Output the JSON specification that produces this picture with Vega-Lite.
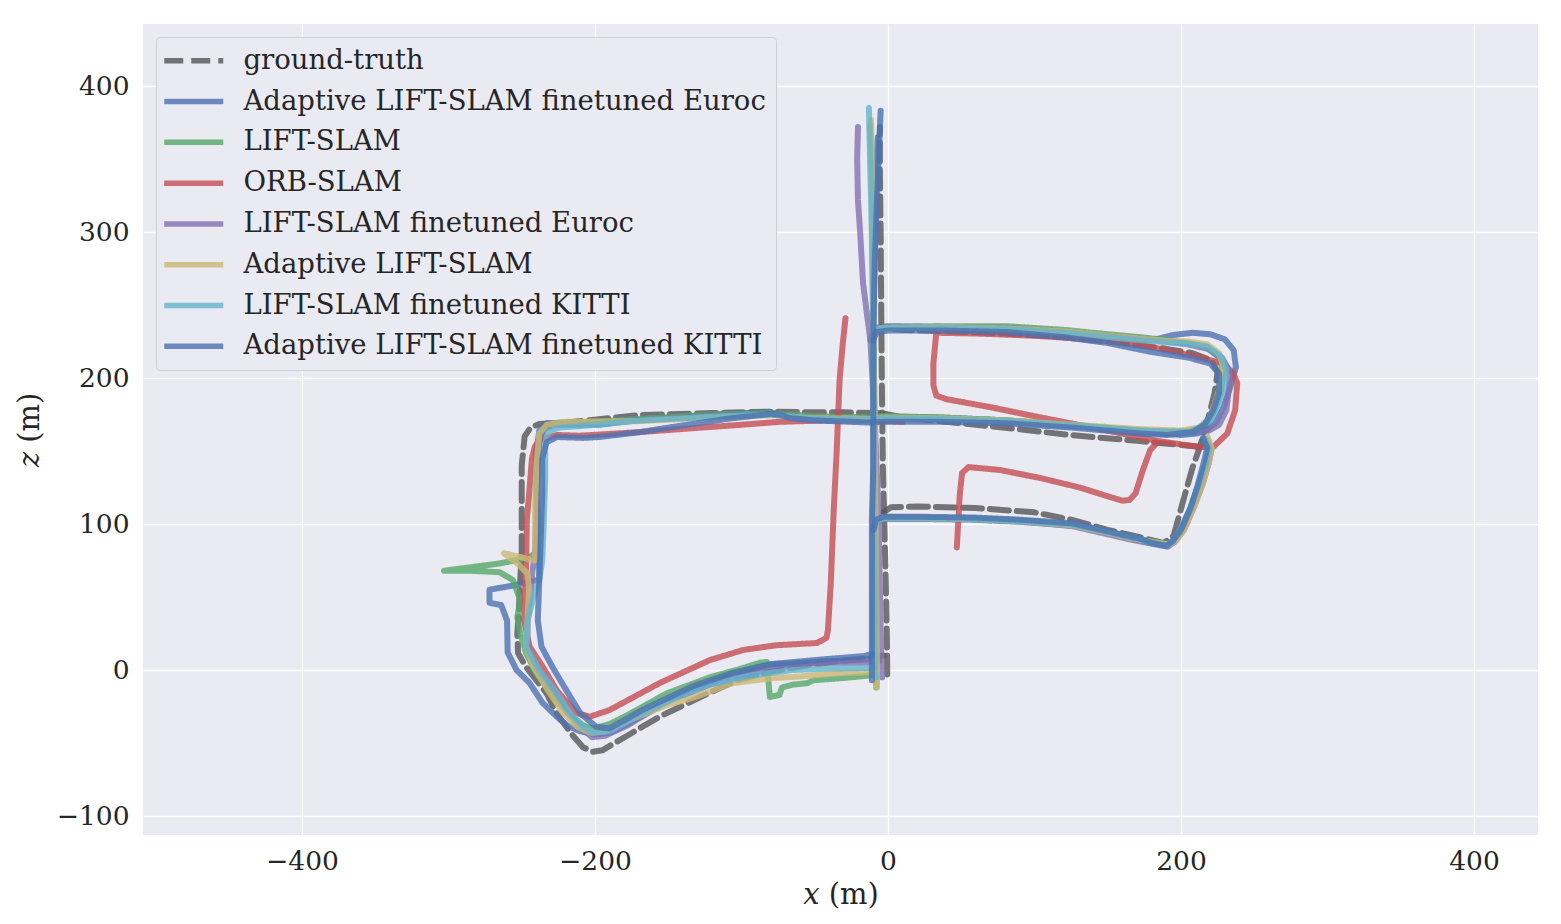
{
  "$schema": "https://vega.github.io/schema/vega-lite/v6.json",
  "width": 1395,
  "height": 811,
  "autosize": {"type": "none"},
  "padding": {"left": 143, "top": 24, "right": 23, "bottom": 89},
  "background": "#ffffff",
  "config": {
    "view": {"fill": "#EAEAF2", "stroke": null},
    "font": "DejaVu Serif",
    "axis": {
      "domain": false, "ticks": false, "grid": true, "gridColor": "#ffffff", "gridWidth": 1.3,
      "labelFont": "DejaVu Serif", "labelFontSize": 26.5, "labelColor": "#262626",
      "titleFont": "DejaVu Serif", "titleFontSize": 29, "titleColor": "#262626", "titleFontWeight": "normal",
      "labelFlush": false
    },
    "legend": {
      "labelFont": "DejaVu Serif", "labelFontSize": 27.5, "labelColor": "#262626"
    }
  },
  "data": {"values": [
    {"s":"gt","g":1,"x":-0.5,"y":-3},{"s":"gt","g":1,"x":-0.7,"y":20},{"s":"gt","g":1,"x":-1.5,"y":60},{"s":"gt","g":1,"x":-2.5,"y":100},{"s":"gt","g":1,"x":-3.5,"y":140},{"s":"gt","g":1,"x":-4,"y":180},{"s":"gt","g":1,"x":-4.5,"y":232},{"s":"gt","g":1,"x":-5,"y":300},{"s":"gt","g":1,"x":-5.5,"y":340},{"s":"gt","g":1,"x":-5.5,"y":372},
    {"s":"gt","g":2,"x":-3,"y":108},{"s":"gt","g":2,"x":2,"y":111.5},{"s":"gt","g":2,"x":20,"y":112},{"s":"gt","g":2,"x":60,"y":111},{"s":"gt","g":2,"x":100,"y":108},{"s":"gt","g":2,"x":125,"y":103},{"s":"gt","g":2,"x":150,"y":96},{"s":"gt","g":2,"x":172,"y":91},{"s":"gt","g":2,"x":188,"y":87},{"s":"gt","g":2,"x":195,"y":92},{"s":"gt","g":2,"x":201.5,"y":116},{"s":"gt","g":2,"x":208,"y":139},{"s":"gt","g":2,"x":213,"y":153},{"s":"gt","g":2,"x":218,"y":170},{"s":"gt","g":2,"x":223,"y":190},{"s":"gt","g":2,"x":225,"y":204},{"s":"gt","g":2,"x":221,"y":212},{"s":"gt","g":2,"x":208,"y":217},{"s":"gt","g":2,"x":190,"y":220},{"s":"gt","g":2,"x":160,"y":224},{"s":"gt","g":2,"x":120,"y":228},{"s":"gt","g":2,"x":80,"y":230.5},{"s":"gt","g":2,"x":40,"y":232},{"s":"gt","g":2,"x":10,"y":233},{"s":"gt","g":2,"x":-4.5,"y":235},
    {"s":"gt","g":3,"x":213,"y":153},{"s":"gt","g":3,"x":170,"y":157},{"s":"gt","g":3,"x":124,"y":161},{"s":"gt","g":3,"x":80,"y":166},{"s":"gt","g":3,"x":40,"y":170},{"s":"gt","g":3,"x":10,"y":173},{"s":"gt","g":3,"x":-4,"y":176},{"s":"gt","g":3,"x":-30,"y":176.5},{"s":"gt","g":3,"x":-51,"y":176.5},{"s":"gt","g":3,"x":-80,"y":177},{"s":"gt","g":3,"x":-120,"y":176},{"s":"gt","g":3,"x":-169,"y":174.7},{"s":"gt","g":3,"x":-219,"y":169.5},{"s":"gt","g":3,"x":-238,"y":168.5},{"s":"gt","g":3,"x":-244,"y":166},{"s":"gt","g":3,"x":-248,"y":160},{"s":"gt","g":3,"x":-250,"y":140},{"s":"gt","g":3,"x":-250,"y":82},{"s":"gt","g":3,"x":-252,"y":40},{"s":"gt","g":3,"x":-253,"y":25},{"s":"gt","g":3,"x":-252.5,"y":11.6},{"s":"gt","g":3,"x":-247,"y":2},{"s":"gt","g":3,"x":-233,"y":-16},{"s":"gt","g":3,"x":-226,"y":-30},{"s":"gt","g":3,"x":-215,"y":-45},{"s":"gt","g":3,"x":-208,"y":-53},{"s":"gt","g":3,"x":-201.5,"y":-56},{"s":"gt","g":3,"x":-195,"y":-55},{"s":"gt","g":3,"x":-178,"y":-45},{"s":"gt","g":3,"x":-156,"y":-32},{"s":"gt","g":3,"x":-128,"y":-18.5},{"s":"gt","g":3,"x":-103,"y":-7},{"s":"gt","g":3,"x":-80,"y":-1},{"s":"gt","g":3,"x":-50,"y":4},{"s":"gt","g":3,"x":-30,"y":6.5},{"s":"gt","g":3,"x":-14,"y":8},{"s":"gt","g":3,"x":-3,"y":10},

    {"s":"ae","g":1,"x":-10,"y":5},{"s":"ae","g":1,"x":-10,"y":50},{"s":"ae","g":1,"x":-10,"y":100},{"s":"ae","g":1,"x":-10,"y":170},{"s":"ae","g":1,"x":-10,"y":232},{"s":"ae","g":1,"x":-9,"y":290},{"s":"ae","g":1,"x":-8,"y":340},{"s":"ae","g":1,"x":-7,"y":365},
    {"s":"ae","g":2,"x":-10,"y":229},{"s":"ae","g":2,"x":-8,"y":234.5},{"s":"ae","g":2,"x":0,"y":235.5},{"s":"ae","g":2,"x":40,"y":235},{"s":"ae","g":2,"x":81,"y":234.5},{"s":"ae","g":2,"x":120,"y":232},{"s":"ae","g":2,"x":150,"y":229},{"s":"ae","g":2,"x":172,"y":226},{"s":"ae","g":2,"x":181,"y":226},{"s":"ae","g":2,"x":195,"y":229.5},{"s":"ae","g":2,"x":208,"y":231},{"s":"ae","g":2,"x":220,"y":230},{"s":"ae","g":2,"x":230,"y":226.5},{"s":"ae","g":2,"x":236,"y":219},{"s":"ae","g":2,"x":237.5,"y":207.5},{"s":"ae","g":2,"x":234,"y":195},{"s":"ae","g":2,"x":229,"y":180},{"s":"ae","g":2,"x":224,"y":170},{"s":"ae","g":2,"x":218,"y":164.5},{"s":"ae","g":2,"x":211,"y":162},{"s":"ae","g":2,"x":200,"y":161},{"s":"ae","g":2,"x":172,"y":163},{"s":"ae","g":2,"x":126,"y":167.5},{"s":"ae","g":2,"x":81,"y":171},{"s":"ae","g":2,"x":35.5,"y":173},{"s":"ae","g":2,"x":-3,"y":173.5},{"s":"ae","g":2,"x":-12,"y":172},{"s":"ae","g":2,"x":-51,"y":172},{"s":"ae","g":2,"x":-70,"y":174.5},{"s":"ae","g":2,"x":-80,"y":176.5},{"s":"ae","g":2,"x":-100,"y":176},{"s":"ae","g":2,"x":-169,"y":171.5},{"s":"ae","g":2,"x":-197,"y":168},{"s":"ae","g":2,"x":-220,"y":168.5},{"s":"ae","g":2,"x":-233,"y":169},{"s":"ae","g":2,"x":-238,"y":164},{"s":"ae","g":2,"x":-240,"y":150},{"s":"ae","g":2,"x":-240,"y":120},{"s":"ae","g":2,"x":-239,"y":90},{"s":"ae","g":2,"x":-238,"y":70},{"s":"ae","g":2,"x":-238,"y":62},{"s":"ae","g":2,"x":-255,"y":58},{"s":"ae","g":2,"x":-272,"y":55},{"s":"ae","g":2,"x":-272,"y":46},{"s":"ae","g":2,"x":-264,"y":44.5},{"s":"ae","g":2,"x":-260,"y":34},{"s":"ae","g":2,"x":-259.6,"y":12},{"s":"ae","g":2,"x":-253.5,"y":0},{"s":"ae","g":2,"x":-244.6,"y":-9},{"s":"ae","g":2,"x":-235.7,"y":-22.6},{"s":"ae","g":2,"x":-226,"y":-32},{"s":"ae","g":2,"x":-219,"y":-38},{"s":"ae","g":2,"x":-210,"y":-42},{"s":"ae","g":2,"x":-200,"y":-44},{"s":"ae","g":2,"x":-190,"y":-43},{"s":"ae","g":2,"x":-176,"y":-36},{"s":"ae","g":2,"x":-151,"y":-21},{"s":"ae","g":2,"x":-130,"y":-12},{"s":"ae","g":2,"x":-106,"y":-3},{"s":"ae","g":2,"x":-80.6,"y":3.5},{"s":"ae","g":2,"x":-41.7,"y":6},{"s":"ae","g":2,"x":-17,"y":7},{"s":"ae","g":2,"x":-9,"y":8},
    {"s":"ae","g":3,"x":216,"y":158},{"s":"ae","g":3,"x":219,"y":152},{"s":"ae","g":3,"x":217,"y":141},{"s":"ae","g":3,"x":213,"y":130},{"s":"ae","g":3,"x":207,"y":112},{"s":"ae","g":3,"x":200,"y":97},{"s":"ae","g":3,"x":195,"y":89},{"s":"ae","g":3,"x":191,"y":85.5},{"s":"ae","g":3,"x":185,"y":86},{"s":"ae","g":3,"x":172,"y":89},{"s":"ae","g":3,"x":150,"y":94},{"s":"ae","g":3,"x":126,"y":99},{"s":"ae","g":3,"x":90,"y":101.5},{"s":"ae","g":3,"x":58,"y":103},{"s":"ae","g":3,"x":20,"y":103.5},{"s":"ae","g":3,"x":-3,"y":103.5},{"s":"ae","g":3,"x":-9,"y":101},{"s":"ae","g":3,"x":-10,"y":94},

    {"s":"ls","g":1,"x":-8,"y":-12},{"s":"ls","g":1,"x":-8,"y":20},{"s":"ls","g":1,"x":-8.5,"y":60},{"s":"ls","g":1,"x":-9,"y":103},{"s":"ls","g":1,"x":-9,"y":170},{"s":"ls","g":1,"x":-10,"y":232},{"s":"ls","g":1,"x":-10.5,"y":300},{"s":"ls","g":1,"x":-11,"y":340},{"s":"ls","g":1,"x":-12,"y":373},
    {"s":"ls","g":2,"x":-10,"y":228},{"s":"ls","g":2,"x":-8,"y":234},{"s":"ls","g":2,"x":0,"y":235},{"s":"ls","g":2,"x":40,"y":235.5},{"s":"ls","g":2,"x":81,"y":235.5},{"s":"ls","g":2,"x":120,"y":233},{"s":"ls","g":2,"x":150,"y":230},{"s":"ls","g":2,"x":172,"y":228},{"s":"ls","g":2,"x":190,"y":226},{"s":"ls","g":2,"x":205,"y":224},{"s":"ls","g":2,"x":218,"y":221},{"s":"ls","g":2,"x":226,"y":214},{"s":"ls","g":2,"x":229,"y":204},{"s":"ls","g":2,"x":227,"y":190},{"s":"ls","g":2,"x":223,"y":178},{"s":"ls","g":2,"x":218,"y":169},{"s":"ls","g":2,"x":210,"y":164.5},{"s":"ls","g":2,"x":195,"y":163},{"s":"ls","g":2,"x":172,"y":164},{"s":"ls","g":2,"x":126,"y":168},{"s":"ls","g":2,"x":81,"y":171},{"s":"ls","g":2,"x":35.5,"y":173},{"s":"ls","g":2,"x":-3,"y":174},{"s":"ls","g":2,"x":-12,"y":173},{"s":"ls","g":2,"x":-51,"y":174},{"s":"ls","g":2,"x":-80,"y":176},{"s":"ls","g":2,"x":-120,"y":175},{"s":"ls","g":2,"x":-169,"y":172},{"s":"ls","g":2,"x":-200,"y":170},{"s":"ls","g":2,"x":-225,"y":169.5},{"s":"ls","g":2,"x":-233,"y":167},{"s":"ls","g":2,"x":-237,"y":160},{"s":"ls","g":2,"x":-240,"y":145},{"s":"ls","g":2,"x":-240,"y":125},{"s":"ls","g":2,"x":-238,"y":95},{"s":"ls","g":2,"x":-241,"y":80},{"s":"ls","g":2,"x":-245,"y":77},{"s":"ls","g":2,"x":-265,"y":73},{"s":"ls","g":2,"x":-303,"y":68},{"s":"ls","g":2,"x":-285,"y":68},{"s":"ls","g":2,"x":-265,"y":67},{"s":"ls","g":2,"x":-256,"y":61.6},{"s":"ls","g":2,"x":-251,"y":48},{"s":"ls","g":2,"x":-253,"y":36},{"s":"ls","g":2,"x":-251,"y":25},{"s":"ls","g":2,"x":-247,"y":11.6},{"s":"ls","g":2,"x":-240,"y":-2},{"s":"ls","g":2,"x":-230,"y":-16},{"s":"ls","g":2,"x":-218,"y":-30},{"s":"ls","g":2,"x":-208,"y":-38},{"s":"ls","g":2,"x":-201.5,"y":-40},{"s":"ls","g":2,"x":-190,"y":-37},{"s":"ls","g":2,"x":-178,"y":-31},{"s":"ls","g":2,"x":-151,"y":-16},{"s":"ls","g":2,"x":-121.6,"y":-5},{"s":"ls","g":2,"x":-100,"y":1},{"s":"ls","g":2,"x":-87.5,"y":5},{"s":"ls","g":2,"x":-82.7,"y":5.5},{"s":"ls","g":2,"x":-80.6,"y":-18.5},{"s":"ls","g":2,"x":-74,"y":-17},{"s":"ls","g":2,"x":-72.4,"y":-12},{"s":"ls","g":2,"x":-65,"y":-10},{"s":"ls","g":2,"x":-55,"y":-9},{"s":"ls","g":2,"x":-51,"y":-7},{"s":"ls","g":2,"x":-31,"y":-5.5},{"s":"ls","g":2,"x":-15,"y":-4},{"s":"ls","g":2,"x":-9,"y":-3},
    {"s":"ls","g":3,"x":218,"y":158},{"s":"ls","g":3,"x":220,"y":152},{"s":"ls","g":3,"x":218,"y":142},{"s":"ls","g":3,"x":214,"y":128},{"s":"ls","g":3,"x":208,"y":112},{"s":"ls","g":3,"x":201,"y":96},{"s":"ls","g":3,"x":196,"y":89},{"s":"ls","g":3,"x":191,"y":86},{"s":"ls","g":3,"x":180,"y":88},{"s":"ls","g":3,"x":165,"y":91},{"s":"ls","g":3,"x":150,"y":94.5},{"s":"ls","g":3,"x":126,"y":99.5},{"s":"ls","g":3,"x":90,"y":102.5},{"s":"ls","g":3,"x":58,"y":104},{"s":"ls","g":3,"x":20,"y":104.5},{"s":"ls","g":3,"x":-3,"y":104.5},{"s":"ls","g":3,"x":-8,"y":102},{"s":"ls","g":3,"x":-9,"y":95},

    {"s":"orb","g":1,"x":-29,"y":241},{"s":"orb","g":1,"x":-31,"y":222},{"s":"orb","g":1,"x":-33,"y":199},{"s":"orb","g":1,"x":-35,"y":150},{"s":"orb","g":1,"x":-37,"y":110},{"s":"orb","g":1,"x":-39,"y":60},{"s":"orb","g":1,"x":-41,"y":27},{"s":"orb","g":1,"x":-42,"y":22},{"s":"orb","g":1,"x":-48.5,"y":18.5},{"s":"orb","g":1,"x":-76,"y":17},{"s":"orb","g":1,"x":-99,"y":13.7},{"s":"orb","g":1,"x":-121.6,"y":6.8},{"s":"orb","g":1,"x":-156,"y":-9},{"s":"orb","g":1,"x":-190,"y":-27.4},{"s":"orb","g":1,"x":-203.6,"y":-32},{"s":"orb","g":1,"x":-212.5,"y":-29.5},{"s":"orb","g":1,"x":-219,"y":-22},{"s":"orb","g":1,"x":-226,"y":-14},{"s":"orb","g":1,"x":-235.5,"y":2},{"s":"orb","g":1,"x":-244.6,"y":16},{"s":"orb","g":1,"x":-248.5,"y":34},{"s":"orb","g":1,"x":-247,"y":70},{"s":"orb","g":1,"x":-246.5,"y":103},{"s":"orb","g":1,"x":-245,"y":120},{"s":"orb","g":1,"x":-243,"y":145},{"s":"orb","g":1,"x":-241,"y":153},{"s":"orb","g":1,"x":-238,"y":157.5},{"s":"orb","g":1,"x":-226,"y":161},{"s":"orb","g":1,"x":-210,"y":160.5},{"s":"orb","g":1,"x":-169,"y":163},{"s":"orb","g":1,"x":-142,"y":165},{"s":"orb","g":1,"x":-100,"y":168},{"s":"orb","g":1,"x":-74,"y":170},{"s":"orb","g":1,"x":-40,"y":171},{"s":"orb","g":1,"x":-12,"y":171},{"s":"orb","g":1,"x":10,"y":170},
    {"s":"orb","g":2,"x":33,"y":231},{"s":"orb","g":2,"x":31,"y":210},{"s":"orb","g":2,"x":31,"y":195},{"s":"orb","g":2,"x":33,"y":188},{"s":"orb","g":2,"x":40,"y":185.5},{"s":"orb","g":2,"x":70,"y":180},{"s":"orb","g":2,"x":104,"y":173},{"s":"orb","g":2,"x":150,"y":164},{"s":"orb","g":2,"x":183,"y":157},{"s":"orb","g":2,"x":213,"y":152.7},{"s":"orb","g":2,"x":222,"y":152.7},{"s":"orb","g":2,"x":231.6,"y":162},{"s":"orb","g":2,"x":237,"y":178},{"s":"orb","g":2,"x":238.4,"y":196.6},{"s":"orb","g":2,"x":235.7,"y":203},{"s":"orb","g":2,"x":229,"y":210},{"s":"orb","g":2,"x":213,"y":214},{"s":"orb","g":2,"x":181,"y":221},{"s":"orb","g":2,"x":145,"y":226},{"s":"orb","g":2,"x":100,"y":229},{"s":"orb","g":2,"x":60,"y":230.5},{"s":"orb","g":2,"x":33,"y":231},
    {"s":"orb","g":3,"x":183,"y":155},{"s":"orb","g":3,"x":179,"y":150.7},{"s":"orb","g":3,"x":174,"y":137},{"s":"orb","g":3,"x":169,"y":121},{"s":"orb","g":3,"x":165,"y":116.5},{"s":"orb","g":3,"x":160,"y":116},{"s":"orb","g":3,"x":150,"y":119},{"s":"orb","g":3,"x":131,"y":125},{"s":"orb","g":3,"x":104,"y":131.5},{"s":"orb","g":3,"x":76.5,"y":137},{"s":"orb","g":3,"x":55,"y":139},{"s":"orb","g":3,"x":50.6,"y":135},{"s":"orb","g":3,"x":49,"y":120},{"s":"orb","g":3,"x":47,"y":84},

    {"s":"le","g":1,"x":-4,"y":-5},{"s":"le","g":1,"x":-5,"y":30},{"s":"le","g":1,"x":-6,"y":80},{"s":"le","g":1,"x":-7,"y":120},{"s":"le","g":1,"x":-9,"y":170},{"s":"le","g":1,"x":-12,"y":226},{"s":"le","g":1,"x":-14.5,"y":245},{"s":"le","g":1,"x":-17,"y":265},{"s":"le","g":1,"x":-19,"y":300},{"s":"le","g":1,"x":-20.5,"y":322},{"s":"le","g":1,"x":-21,"y":350},{"s":"le","g":1,"x":-20.5,"y":372},
    {"s":"le","g":2,"x":-12,"y":226},{"s":"le","g":2,"x":-10,"y":233},{"s":"le","g":2,"x":0,"y":235},{"s":"le","g":2,"x":40,"y":235},{"s":"le","g":2,"x":81,"y":234},{"s":"le","g":2,"x":120,"y":231.5},{"s":"le","g":2,"x":150,"y":229},{"s":"le","g":2,"x":172,"y":227},{"s":"le","g":2,"x":190,"y":225},{"s":"le","g":2,"x":205,"y":223},{"s":"le","g":2,"x":218,"y":220},{"s":"le","g":2,"x":228,"y":214},{"s":"le","g":2,"x":233,"y":205},{"s":"le","g":2,"x":233,"y":195},{"s":"le","g":2,"x":231,"y":178},{"s":"le","g":2,"x":226,"y":168},{"s":"le","g":2,"x":219,"y":164},{"s":"le","g":2,"x":205,"y":163},{"s":"le","g":2,"x":172,"y":164},{"s":"le","g":2,"x":126,"y":167},{"s":"le","g":2,"x":81,"y":170},{"s":"le","g":2,"x":35.5,"y":172},{"s":"le","g":2,"x":-3,"y":172.5},{"s":"le","g":2,"x":-12,"y":171.5},{"s":"le","g":2,"x":-51,"y":172.5},{"s":"le","g":2,"x":-80,"y":175},{"s":"le","g":2,"x":-120,"y":174},{"s":"le","g":2,"x":-169,"y":171},{"s":"le","g":2,"x":-210,"y":168},{"s":"le","g":2,"x":-228,"y":168},{"s":"le","g":2,"x":-235,"y":165},{"s":"le","g":2,"x":-238,"y":158},{"s":"le","g":2,"x":-239,"y":130},{"s":"le","g":2,"x":-240,"y":100},{"s":"le","g":2,"x":-241,"y":80},{"s":"le","g":2,"x":-243,"y":65},{"s":"le","g":2,"x":-244,"y":50},{"s":"le","g":2,"x":-246,"y":34},{"s":"le","g":2,"x":-246,"y":16},{"s":"le","g":2,"x":-240,"y":2},{"s":"le","g":2,"x":-229,"y":-14},{"s":"le","g":2,"x":-219,"y":-29},{"s":"le","g":2,"x":-210,"y":-39},{"s":"le","g":2,"x":-202,"y":-46},{"s":"le","g":2,"x":-193,"y":-45},{"s":"le","g":2,"x":-178,"y":-38},{"s":"le","g":2,"x":-151,"y":-22},{"s":"le","g":2,"x":-121.6,"y":-10},{"s":"le","g":2,"x":-100,"y":-4},{"s":"le","g":2,"x":-80,"y":1},{"s":"le","g":2,"x":-60,"y":4},{"s":"le","g":2,"x":-40,"y":5},{"s":"le","g":2,"x":-20,"y":5},{"s":"le","g":2,"x":-6,"y":6},
    {"s":"le","g":3,"x":217,"y":158},{"s":"le","g":3,"x":221,"y":152},{"s":"le","g":3,"x":219,"y":142},{"s":"le","g":3,"x":215,"y":128},{"s":"le","g":3,"x":209,"y":112},{"s":"le","g":3,"x":202,"y":96},{"s":"le","g":3,"x":196,"y":88},{"s":"le","g":3,"x":191,"y":84.5},{"s":"le","g":3,"x":180,"y":86.5},{"s":"le","g":3,"x":165,"y":89.5},{"s":"le","g":3,"x":150,"y":93},{"s":"le","g":3,"x":126,"y":98.5},{"s":"le","g":3,"x":90,"y":102},{"s":"le","g":3,"x":58,"y":103.5},{"s":"le","g":3,"x":20,"y":104.5},{"s":"le","g":3,"x":-3,"y":105},{"s":"le","g":3,"x":-8,"y":103},{"s":"le","g":3,"x":-9,"y":96},

    {"s":"al","g":1,"x":-7.5,"y":-12},{"s":"al","g":1,"x":-7.5,"y":0},{"s":"al","g":1,"x":-8,"y":50},{"s":"al","g":1,"x":-8.5,"y":103},{"s":"al","g":1,"x":-9,"y":170},{"s":"al","g":1,"x":-10,"y":232},{"s":"al","g":1,"x":-11,"y":300},{"s":"al","g":1,"x":-11,"y":340},{"s":"al","g":1,"x":-11.6,"y":377},
    {"s":"al","g":2,"x":-10,"y":228},{"s":"al","g":2,"x":-8,"y":233.5},{"s":"al","g":2,"x":0,"y":234.5},{"s":"al","g":2,"x":40,"y":235},{"s":"al","g":2,"x":81,"y":234},{"s":"al","g":2,"x":120,"y":232},{"s":"al","g":2,"x":150,"y":229},{"s":"al","g":2,"x":172,"y":227},{"s":"al","g":2,"x":190,"y":225.5},{"s":"al","g":2,"x":205,"y":225},{"s":"al","g":2,"x":218,"y":223},{"s":"al","g":2,"x":226,"y":217},{"s":"al","g":2,"x":229,"y":207},{"s":"al","g":2,"x":227,"y":195},{"s":"al","g":2,"x":223,"y":182},{"s":"al","g":2,"x":219,"y":172},{"s":"al","g":2,"x":212,"y":166},{"s":"al","g":2,"x":200,"y":164},{"s":"al","g":2,"x":172,"y":165},{"s":"al","g":2,"x":126,"y":168},{"s":"al","g":2,"x":81,"y":171},{"s":"al","g":2,"x":35.5,"y":172.5},{"s":"al","g":2,"x":-3,"y":173},{"s":"al","g":2,"x":-12,"y":172},{"s":"al","g":2,"x":-51,"y":172.5},{"s":"al","g":2,"x":-80,"y":174.5},{"s":"al","g":2,"x":-120,"y":173},{"s":"al","g":2,"x":-169,"y":170.5},{"s":"al","g":2,"x":-219,"y":170},{"s":"al","g":2,"x":-233,"y":168},{"s":"al","g":2,"x":-238,"y":162},{"s":"al","g":2,"x":-240,"y":140},{"s":"al","g":2,"x":-241,"y":110},{"s":"al","g":2,"x":-241,"y":75},{"s":"al","g":2,"x":-262,"y":80},{"s":"al","g":2,"x":-253,"y":73},{"s":"al","g":2,"x":-246,"y":66},{"s":"al","g":2,"x":-245,"y":55},{"s":"al","g":2,"x":-246,"y":35},{"s":"al","g":2,"x":-247,"y":16},{"s":"al","g":2,"x":-242,"y":2},{"s":"al","g":2,"x":-232,"y":-14},{"s":"al","g":2,"x":-222,"y":-29},{"s":"al","g":2,"x":-212,"y":-39},{"s":"al","g":2,"x":-203,"y":-43},{"s":"al","g":2,"x":-193,"y":-42},{"s":"al","g":2,"x":-176,"y":-34},{"s":"al","g":2,"x":-151,"y":-24},{"s":"al","g":2,"x":-133,"y":-19},{"s":"al","g":2,"x":-106,"y":-9},{"s":"al","g":2,"x":-78.6,"y":-5.5},{"s":"al","g":2,"x":-65,"y":-4.8},{"s":"al","g":2,"x":-31,"y":-2},{"s":"al","g":2,"x":-10,"y":-1.4},{"s":"al","g":2,"x":-7.5,"y":-5},
    {"s":"al","g":3,"x":218,"y":160},{"s":"al","g":3,"x":221,"y":152},{"s":"al","g":3,"x":219,"y":142},{"s":"al","g":3,"x":215,"y":128},{"s":"al","g":3,"x":209,"y":112},{"s":"al","g":3,"x":202,"y":96},{"s":"al","g":3,"x":197,"y":89},{"s":"al","g":3,"x":192,"y":86},{"s":"al","g":3,"x":182,"y":87.5},{"s":"al","g":3,"x":165,"y":90.5},{"s":"al","g":3,"x":150,"y":94},{"s":"al","g":3,"x":126,"y":99},{"s":"al","g":3,"x":90,"y":102},{"s":"al","g":3,"x":58,"y":103.5},{"s":"al","g":3,"x":20,"y":104},{"s":"al","g":3,"x":-3,"y":104},{"s":"al","g":3,"x":-8,"y":102},{"s":"al","g":3,"x":-9,"y":95},

    {"s":"lk","g":1,"x":-8,"y":-5},{"s":"lk","g":1,"x":-9,"y":0},{"s":"lk","g":1,"x":-9,"y":50},{"s":"lk","g":1,"x":-10,"y":103},{"s":"lk","g":1,"x":-10,"y":170},{"s":"lk","g":1,"x":-10,"y":232},{"s":"lk","g":1,"x":-11,"y":300},{"s":"lk","g":1,"x":-12,"y":340},{"s":"lk","g":1,"x":-13,"y":385},
    {"s":"lk","g":2,"x":-10,"y":228},{"s":"lk","g":2,"x":-8,"y":233.5},{"s":"lk","g":2,"x":0,"y":234.5},{"s":"lk","g":2,"x":40,"y":234.5},{"s":"lk","g":2,"x":81,"y":233.5},{"s":"lk","g":2,"x":120,"y":231},{"s":"lk","g":2,"x":150,"y":228},{"s":"lk","g":2,"x":172,"y":226},{"s":"lk","g":2,"x":190,"y":224.5},{"s":"lk","g":2,"x":205,"y":223.5},{"s":"lk","g":2,"x":218,"y":221.5},{"s":"lk","g":2,"x":227,"y":215},{"s":"lk","g":2,"x":231,"y":206},{"s":"lk","g":2,"x":229,"y":193},{"s":"lk","g":2,"x":225,"y":181},{"s":"lk","g":2,"x":220,"y":171},{"s":"lk","g":2,"x":213,"y":166.4},{"s":"lk","g":2,"x":206,"y":163},{"s":"lk","g":2,"x":172,"y":164},{"s":"lk","g":2,"x":126,"y":167.5},{"s":"lk","g":2,"x":81,"y":170.5},{"s":"lk","g":2,"x":35.5,"y":172},{"s":"lk","g":2,"x":-3,"y":172.5},{"s":"lk","g":2,"x":-12,"y":171.5},{"s":"lk","g":2,"x":-51,"y":172},{"s":"lk","g":2,"x":-80,"y":175},{"s":"lk","g":2,"x":-120,"y":173.5},{"s":"lk","g":2,"x":-169,"y":171},{"s":"lk","g":2,"x":-205,"y":167.5},{"s":"lk","g":2,"x":-225,"y":166},{"s":"lk","g":2,"x":-232,"y":163},{"s":"lk","g":2,"x":-234,"y":155},{"s":"lk","g":2,"x":-234,"y":130},{"s":"lk","g":2,"x":-235,"y":100},{"s":"lk","g":2,"x":-236,"y":75},{"s":"lk","g":2,"x":-238,"y":62},{"s":"lk","g":2,"x":-242,"y":50},{"s":"lk","g":2,"x":-246,"y":34},{"s":"lk","g":2,"x":-247,"y":16},{"s":"lk","g":2,"x":-238,"y":0},{"s":"lk","g":2,"x":-226,"y":-16},{"s":"lk","g":2,"x":-217,"y":-29.6},{"s":"lk","g":2,"x":-208,"y":-39},{"s":"lk","g":2,"x":-201.5,"y":-43},{"s":"lk","g":2,"x":-190,"y":-42},{"s":"lk","g":2,"x":-167,"y":-29.5},{"s":"lk","g":2,"x":-145,"y":-19},{"s":"lk","g":2,"x":-121.6,"y":-10},{"s":"lk","g":2,"x":-95,"y":-4},{"s":"lk","g":2,"x":-65,"y":0},{"s":"lk","g":2,"x":-40,"y":1},{"s":"lk","g":2,"x":-14,"y":1.4},{"s":"lk","g":2,"x":-9,"y":2},
    {"s":"lk","g":3,"x":216,"y":159},{"s":"lk","g":3,"x":219,"y":152},{"s":"lk","g":3,"x":217,"y":141},{"s":"lk","g":3,"x":212,"y":127},{"s":"lk","g":3,"x":206,"y":110},{"s":"lk","g":3,"x":199,"y":95},{"s":"lk","g":3,"x":194,"y":88},{"s":"lk","g":3,"x":190,"y":85},{"s":"lk","g":3,"x":180,"y":87},{"s":"lk","g":3,"x":172,"y":89.5},{"s":"lk","g":3,"x":150,"y":94.5},{"s":"lk","g":3,"x":126,"y":99.5},{"s":"lk","g":3,"x":90,"y":102},{"s":"lk","g":3,"x":58,"y":103.5},{"s":"lk","g":3,"x":20,"y":104},{"s":"lk","g":3,"x":-3,"y":104},{"s":"lk","g":3,"x":-8,"y":102},{"s":"lk","g":3,"x":-9,"y":96},

    {"s":"ak","g":1,"x":-11,"y":-7},{"s":"ak","g":1,"x":-11,"y":20},{"s":"ak","g":1,"x":-11,"y":60},{"s":"ak","g":1,"x":-11,"y":103},{"s":"ak","g":1,"x":-10,"y":140},{"s":"ak","g":1,"x":-10,"y":170},{"s":"ak","g":1,"x":-10,"y":232},{"s":"ak","g":1,"x":-9,"y":280},{"s":"ak","g":1,"x":-7.5,"y":322},{"s":"ak","g":1,"x":-6,"y":360},{"s":"ak","g":1,"x":-5,"y":383},
    {"s":"ak","g":2,"x":-10,"y":226},{"s":"ak","g":2,"x":-8,"y":231.5},{"s":"ak","g":2,"x":0,"y":232.5},{"s":"ak","g":2,"x":40,"y":232.5},{"s":"ak","g":2,"x":81,"y":231.5},{"s":"ak","g":2,"x":120,"y":228},{"s":"ak","g":2,"x":150,"y":224},{"s":"ak","g":2,"x":179,"y":218},{"s":"ak","g":2,"x":205,"y":214},{"s":"ak","g":2,"x":220,"y":210},{"s":"ak","g":2,"x":226,"y":203},{"s":"ak","g":2,"x":226,"y":190},{"s":"ak","g":2,"x":222,"y":178},{"s":"ak","g":2,"x":216,"y":168},{"s":"ak","g":2,"x":208,"y":163},{"s":"ak","g":2,"x":190,"y":161},{"s":"ak","g":2,"x":172,"y":162},{"s":"ak","g":2,"x":126,"y":166},{"s":"ak","g":2,"x":81,"y":169},{"s":"ak","g":2,"x":35.5,"y":170},{"s":"ak","g":2,"x":-3,"y":170},{"s":"ak","g":2,"x":-12,"y":169.5},{"s":"ak","g":2,"x":-51,"y":171},{"s":"ak","g":2,"x":-67,"y":172.6},{"s":"ak","g":2,"x":-74,"y":175},{"s":"ak","g":2,"x":-80,"y":175.5},{"s":"ak","g":2,"x":-110,"y":172},{"s":"ak","g":2,"x":-150,"y":166},{"s":"ak","g":2,"x":-169,"y":163},{"s":"ak","g":2,"x":-197,"y":159.6},{"s":"ak","g":2,"x":-208,"y":159},{"s":"ak","g":2,"x":-226,"y":159.6},{"s":"ak","g":2,"x":-233,"y":156},{"s":"ak","g":2,"x":-236,"y":145},{"s":"ak","g":2,"x":-236,"y":120},{"s":"ak","g":2,"x":-237,"y":90},{"s":"ak","g":2,"x":-238,"y":62},{"s":"ak","g":2,"x":-239,"y":34},{"s":"ak","g":2,"x":-236.5,"y":16},{"s":"ak","g":2,"x":-229,"y":2},{"s":"ak","g":2,"x":-219.5,"y":-14},{"s":"ak","g":2,"x":-210,"y":-29.6},{"s":"ak","g":2,"x":-199,"y":-39},{"s":"ak","g":2,"x":-190,"y":-40},{"s":"ak","g":2,"x":-167,"y":-27},{"s":"ak","g":2,"x":-133,"y":-11},{"s":"ak","g":2,"x":-106,"y":-2},{"s":"ak","g":2,"x":-80.6,"y":4},{"s":"ak","g":2,"x":-41.7,"y":7.5},{"s":"ak","g":2,"x":-17,"y":9.5},{"s":"ak","g":2,"x":-11,"y":11},
    {"s":"ak","g":3,"x":215,"y":159},{"s":"ak","g":3,"x":218,"y":152},{"s":"ak","g":3,"x":215,"y":140},{"s":"ak","g":3,"x":211,"y":125},{"s":"ak","g":3,"x":206,"y":109.6},{"s":"ak","g":3,"x":200,"y":96},{"s":"ak","g":3,"x":194,"y":88},{"s":"ak","g":3,"x":190,"y":85},{"s":"ak","g":3,"x":180,"y":87},{"s":"ak","g":3,"x":172,"y":90},{"s":"ak","g":3,"x":150,"y":95},{"s":"ak","g":3,"x":126,"y":100.5},{"s":"ak","g":3,"x":90,"y":103},{"s":"ak","g":3,"x":58,"y":104.5},{"s":"ak","g":3,"x":20,"y":105},{"s":"ak","g":3,"x":-3,"y":105},{"s":"ak","g":3,"x":-8,"y":103},{"s":"ak","g":3,"x":-10,"y":96}
  ]},
  "mark": {"type": "line", "strokeWidth": 6, "opacity": 0.8, "strokeJoin": "round", "strokeCap": "round", "clip": true},
  "encoding": {
    "x": {"field": "x", "type": "quantitative",
      "scale": {"domain": [-508.5, 443.7], "nice": false, "zero": false},
      "axis": {"values": [-400, -200, 0, 200, 400], "title": "𝑥 (m)", "labelPadding": 13, "titlePadding": 6}},
    "y": {"field": "y", "type": "quantitative",
      "scale": {"domain": [-113, 442.5], "nice": false, "zero": false},
      "axis": {"values": [-100, 0, 100, 200, 300, 400], "title": "𝑧 (m)", "labelPadding": 14, "titlePadding": 12}},
    "color": {"field": "s", "type": "nominal",
      "scale": {"domain": ["gt","ae","ls","orb","le","al","lk","ak"],
                "range": ["#555558","#4C72B0","#55A868","#C44E52","#8172B2","#CCB974","#64B5CD","#4C72B0"]},
      "legend": {"title": null, "orient": "top-left", "offset": 13, "padding": 10,
        "labelExpr": "({'gt':'ground-truth','ae':'Adaptive LIFT-SLAM finetuned Euroc','ls':'LIFT-SLAM','orb':'ORB-SLAM','le':'LIFT-SLAM finetuned Euroc','al':'Adaptive LIFT-SLAM','lk':'LIFT-SLAM finetuned KITTI','ak':'Adaptive LIFT-SLAM finetuned KITTI'})[datum.value]",
        "symbolType": "M-3,0H3", "symbolSize": 387, "symbolStrokeWidth": 5.5, "symbolOffset": 14, "labelOffset": 36, "rowPadding": 11.8,
        "fillColor": "#EAEAF2", "strokeColor": "#cfcfd3", "cornerRadius": 4, "labelLimit": 1000}},
    "strokeDash": {"field": "s", "type": "nominal",
      "scale": {"domain": ["gt","ae","ls","orb","le","al","lk","ak"],
                "range": [[19,8],[1,0],[1,0],[1,0],[1,0],[1,0],[1,0],[1,0]]}},
    "detail": {"field": "g"},
    "order": {"value": null}
  }
}
